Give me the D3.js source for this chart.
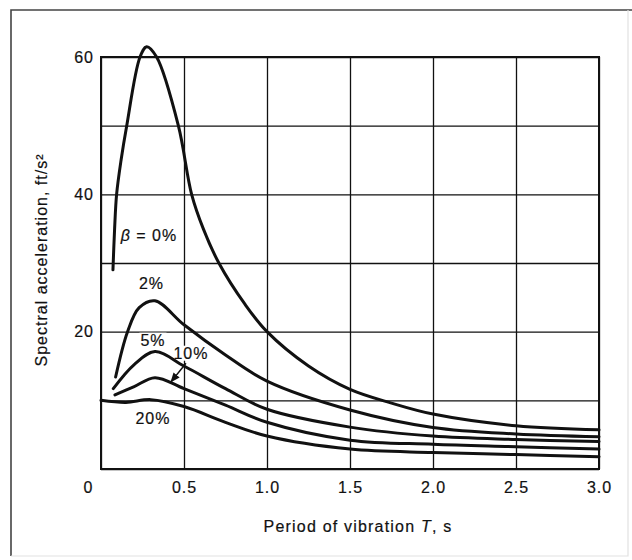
<!DOCTYPE html>
<html>
<head>
<meta charset="utf-8">
<script src="https://cdn.jsdelivr.net/npm/d3@7"></script>
<style>
  body { margin: 0; background: #fff; }
  text { font-family: "Liberation Sans", Arial, sans-serif; fill: #111; stroke: #111; stroke-width: 0.2px; }
  .grid line { stroke: #111; stroke-width: 1.3; }
  .grid .domain { display: none; }
  .axis .domain { display: none; }
  .axis text { font-size: 16px; letter-spacing: 1px; }
  .curve { fill: none; stroke: #111; stroke-width: 3; stroke-linejoin: round; stroke-linecap: round; }
  .lbl { font-size: 16px; letter-spacing: 1px; }
</style>
</head>
<body>
<svg class="chart"></svg>
<script>
// spectral acceleration (ft/s2) vs period T (s), one array pair per damping ratio
var period0 = [0.072, 0.082, 0.094, 0.121, 0.155, 0.235, 0.275, 0.335, 0.466, 0.546, 0.616, 0.71, 0.867, 1.0, 1.25, 1.5, 1.75, 2.0, 2.5, 3.0],
    accel0  = [29, 35, 40, 45, 50, 60, 61.5, 60, 50, 40, 35, 30, 24, 20, 15.0, 11.6, 9.6, 8.0, 6.3, 5.7];
var period2 = [0.088, 0.16, 0.23, 0.325, 0.5, 0.75, 1.0, 1.5, 2.0, 2.5, 3.0],
    accel2  = [13.4, 20, 23.5, 24.5, 21.0, 16.6, 12.8, 8.6, 6.05, 5.1, 4.7];
var period5 = [0.074, 0.2, 0.325, 0.5, 0.75, 1.0, 1.5, 2.0, 2.5, 3.0],
    accel5  = [11.7, 15.2, 17.1, 15.0, 11.7, 8.7, 6.1, 4.8, 4.3, 4.0];
var period10 = [0.084, 0.2, 0.325, 0.5, 0.75, 1.0, 1.5, 2.0, 2.5, 3.0],
    accel10  = [10.8, 12.0, 13.3, 11.7, 9.3, 6.8, 4.2, 3.6, 3.25, 2.9];
var period20 = [0, 0.15, 0.3, 0.5, 0.75, 1.0, 1.5, 2.0, 2.5, 3.0],
    accel20  = [10.0, 9.7, 10.1, 9.1, 6.8, 4.8, 2.9, 2.4, 2.1, 1.8];

var xTicks = [0, 0.5, 1.0, 1.5, 2.0, 2.5, 3.0],
    yGrid = [0, 10, 20, 30, 40, 50, 60],
    yLabels = [20, 40, 60];

// curve labels placed in data units (T, S)
var labels = [
  {text: '0%', beta: true, t: 0.289, s: 34.1},
  {text: '2%', t: 0.304, s: 27.1},
  {text: '5%', t: 0.313, s: 18.8},
  {text: '10%', t: 0.542, s: 16.9},
  {text: '20%', t: 0.313, s: 7.4}
];
var arrow10 = {t1: 0.512, s1: 15.4, t2: 0.422, s2: 12.7};

var series = [
  [period0, accel0], [period2, accel2], [period5, accel5], [period10, accel10], [period20, accel20]
].map(function(p) { return p[0].map(function(t, i) { return {t: t, s: p[1][i]}; }); });

var margin = {top: 57, right: 33, bottom: 91, left: 101},
    W = 632, H = 560,
    width = W - margin.left - margin.right,
    height = H - margin.top - margin.bottom;

var chart = d3.select('.chart').attr('width', W).attr('height', H);

// page frame (scanned figure border)
chart.append('path').attr('d', 'M11,556V10H632').attr('fill', 'none').attr('stroke', '#444').attr('stroke-width', 1.6);
chart.append('path').attr('d', 'M11,556H628V10').attr('fill', 'none').attr('stroke', '#e2e2e2').attr('stroke-width', 1.2);

var x = d3.scaleLinear().domain([0, 3]).range([0, width]),
    y = d3.scaleLinear().domain([0, 60]).range([height, 0]);

var g = chart.append('g').attr('transform', 'translate(' + margin.left + ',' + margin.top + ')');

// gridlines
g.append('g').attr('class', 'grid')
  .call(d3.axisLeft(y).tickValues(yGrid).tickSize(-width).tickFormat(''));
g.append('g').attr('class', 'grid')
  .attr('transform', 'translate(0,' + height + ')')
  .call(d3.axisBottom(x).tickValues(xTicks).tickSize(-height).tickFormat(''));

// axes labels
var xa = g.append('g').attr('class', 'axis')
  .attr('transform', 'translate(0,' + height + ')')
  .call(d3.axisBottom(x).tickValues(xTicks).tickSize(0).tickPadding(13)
    .tickFormat(function(d) { return d === 0 ? '0' : d3.format('.1f')(d); }));
xa.selectAll('.tick').filter(function(d) { return d === 0; }).select('text').attr('dx', -13);

g.append('g').attr('class', 'axis')
  .call(d3.axisLeft(y).tickValues(yLabels).tickSize(0).tickPadding(7));

// white backing behind curve labels so the grid breaks around them
var lblG = g.append('g');
var curves = g.append('g');
var txtG = g.append('g');

labels.forEach(function(l) {
  var t = txtG.append('text').attr('class', 'lbl')
    .attr('x', x(l.t)).attr('y', y(l.s)).attr('dy', '0.36em')
    .attr('text-anchor', 'middle');
  if (l.beta) {
    t.append('tspan').attr('font-style', 'italic').text('β');
    t.append('tspan').text(' = ' + l.text);
  } else {
    t.text(l.text);
  }
  var b = t.node().getBBox();
  lblG.append('rect').attr('x', b.x - 1).attr('y', b.y + 1).attr('width', b.width + 2).attr('height', b.height - 2)
    .attr('fill', '#fff');
});

var line = d3.line()
  .x(function(d) { return x(d.t); })
  .y(function(d) { return y(d.s); })
  .curve(d3.curveCatmullRom.alpha(0.5));

curves.selectAll('.curve')
  .data(series)
  .enter().append('path')
  .attr('class', 'curve')
  .attr('d', line);

// arrow pointing at the 10% curve
chart.append('defs').append('marker')
  .attr('id', 'ah').attr('viewBox', '0 0 10 10').attr('refX', 9).attr('refY', 5)
  .attr('markerWidth', 7).attr('markerHeight', 7).attr('orient', 'auto')
  .append('path').attr('d', 'M0,1L10,5L0,9z').attr('fill', '#111');
g.append('line')
  .attr('x1', x(arrow10.t1)).attr('y1', y(arrow10.s1))
  .attr('x2', x(arrow10.t2)).attr('y2', y(arrow10.s2))
  .attr('stroke', '#111').attr('stroke-width', 1.4).attr('marker-end', 'url(#ah)');

// plot border
g.append('rect').attr('width', width).attr('height', height)
  .attr('fill', 'none').attr('stroke', '#111').attr('stroke-width', 2);

// axis titles
var xt = chart.append('text')
  .attr('x', 358).attr('y', 532).attr('text-anchor', 'middle')
  .style('font-size', '16px').style('letter-spacing', '1.2px');
xt.append('tspan').text('Period of vibration ');
xt.append('tspan').attr('font-style', 'italic').text('T');
xt.append('tspan').text(', s');

chart.append('text')
  .attr('transform', 'translate(47,260) rotate(-90)')
  .attr('text-anchor', 'middle')
  .style('font-size', '16px').style('letter-spacing', '1px')
  .text('Spectral acceleration, ft/s²');
</script>
</body>
</html>
